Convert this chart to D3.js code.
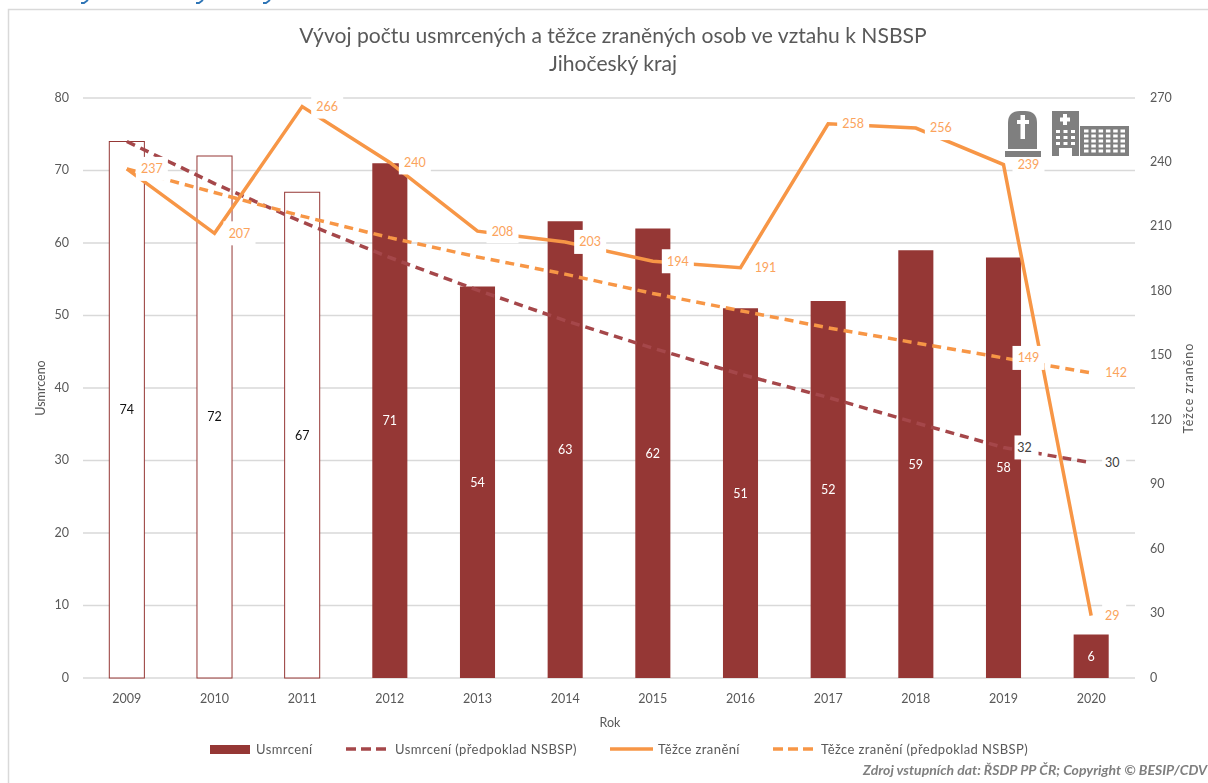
<!DOCTYPE html>
<html>
<head>
<meta charset="utf-8">
<style>
html, body { margin: 0; padding: 0; background: #fff; overflow: hidden; }
svg { display: block; filter: blur(0.35px); }
text { font-family: Lato, "Open Sans", sans-serif; fill: #595959; }
.axis .domain, .axis line { display: none; }
.axis text { font-size: 12.5px; fill: #595959; font-family: Lato, sans-serif; }
.grid { stroke: #d9d9d9; stroke-width: 1.5px; }
.line { fill: none; }
</style>
</head>
<body>
<script src="https://d3js.org/d3.v7.min.js"></script>
<script>

// data
var years = [2009, 2010, 2011, 2012, 2013, 2014, 2015, 2016, 2017, 2018, 2019, 2020];
var killed = [74, 72, 67, 71, 54, 63, 62, 51, 52, 59, 58, 6];
var killedPlan = [74, 68.2, 62.9, 58, 53.5, 49.3, 45.5, 41.9, 38.7, 35.2, 31.8, 29.7];
var injured = [237, 207, 266, 240, 208, 203, 194, 191, 258, 256, 239, 29];
var injuredPlan = [237, 226, 215, 205, 196, 188, 179, 171, 163, 156, 149, 142];
var hollowYears = [2009, 2010, 2011];
var killedPlanLabelYears = [2019, 2020];
var injuredPlanLabelYears = [2020, 2019];
var leftTicks = [0, 10, 20, 30, 40, 50, 60, 70, 80];
var rightTicks = [0, 30, 60, 90, 120, 150, 180, 210, 240, 270];

var red = "#953735", planRed = "#a5474a", orange = "#f79646", labelOrange = "#fba35c", dark = "#404040";

var margin = {top: 98, right: 73, bottom: 105, left: 83},
    width = 1208 - margin.left - margin.right,
    height = 783 - margin.top - margin.bottom;

var svg = d3.select("body").append("svg")
    .attr("width", 1208)
    .attr("height", 783);

// card border, open on the right and the bottom
svg.append("path")
    .attr("d", "M8.5,783V9.5H1208")
    .attr("fill", "none")
    .attr("stroke", "#d9d9d9")
    .attr("stroke-width", 1.5);

// bits of the page heading cut off by the top edge
svg.append("g").selectAll("path")
    .data([81, 196, 263])
    .enter().append("path")
    .attr("d", function(d) { return "M" + d + ",3H" + (d + 3) + "L" + (d + 7) + ",0"; })
    .attr("fill", "none")
    .attr("stroke", "#2e75b6")
    .attr("stroke-width", 1.8);

// title
svg.append("text").attr("x", 613).attr("y", 43).attr("text-anchor", "middle")
    .style("font-size", "21.1px")
    .text("Vývoj počtu usmrcených a těžce zraněných osob ve vztahu k NSBSP");
svg.append("text").attr("x", 613).attr("y", 71).attr("text-anchor", "middle")
    .style("font-size", "21.1px")
    .text("Jihočeský kraj");

var g = svg.append("g")
    .attr("transform", "translate(" + margin.left + "," + margin.top + ")");

// scales
var x = d3.scaleBand().domain(years).range([0, width]).paddingInner(0.6).paddingOuter(0.3);
var yLeft = d3.scaleLinear().domain([0, 80]).range([height, 0]);
var yRight = d3.scaleLinear().domain([0, 270]).range([height, 0]);
function cx(year) { return x(year) + x.bandwidth() / 2; }

// gridlines
g.selectAll(".grid")
    .data(leftTicks)
    .enter().append("line")
    .attr("class", "grid")
    .attr("x1", 0)
    .attr("x2", width)
    .attr("y1", function(d) { return yLeft(d); })
    .attr("y2", function(d) { return yLeft(d); });

// axes
g.append("g").attr("class", "axis")
    .attr("transform", "translate(-9,-1)")
    .call(d3.axisLeft(yLeft).tickValues(leftTicks).tickSize(0).tickPadding(5));
g.append("g").attr("class", "axis")
    .attr("transform", "translate(" + (width + 10) + ",-1)")
    .call(d3.axisRight(yRight).tickValues(rightTicks).tickSize(0).tickPadding(5));
g.append("g").attr("class", "axis")
    .attr("transform", "translate(0," + height + ")")
    .call(d3.axisBottom(x).tickSize(0).tickPadding(16));

// axis titles
svg.append("text").attr("transform", "translate(45,388) rotate(-90)")
    .attr("text-anchor", "middle").style("font-size", "12.5px").text("Usmrceno");
svg.append("text").attr("transform", "translate(1193,388) rotate(-90)")
    .attr("text-anchor", "middle").style("font-size", "12.5px").style("letter-spacing", "1px").text("Těžce zraněno");
svg.append("text").attr("x", 610).attr("y", 727)
    .attr("text-anchor", "middle").style("font-size", "12.5px").text("Rok");

// bars
var rows = years.map(function(y, i) { return {year: y, value: killed[i]}; });
function isHollow(d) { return hollowYears.indexOf(d.year) >= 0; }

g.selectAll(".bar")
    .data(rows)
    .enter().append("rect")
    .attr("class", "bar")
    .attr("x", function(d) { return x(d.year); })
    .attr("width", x.bandwidth())
    .attr("y", function(d) { return yLeft(d.value); })
    .attr("height", function(d) { return height - yLeft(d.value); })
    .style("fill", function(d) { return isHollow(d) ? "#fff" : red; })
    .style("stroke", function(d) { return isHollow(d) ? red : "none"; })
    .style("stroke-width", 1);

g.selectAll(".barLabel")
    .data(rows)
    .enter().append("text")
    .attr("x", function(d) { return cx(d.year); })
    .attr("y", function(d) { return yLeft(d.value / 2); })
    .attr("dy", "0.35em")
    .attr("text-anchor", "middle")
    .style("font-size", "12.5px")
    .style("fill", function(d) { return isHollow(d) ? "#111" : "#fff"; })
    .text(function(d) { return d.value; });

// lines
function lineFor(scale) {
  return d3.line()
      .x(function(d, i) { return cx(years[i]); })
      .y(function(d) { return scale(d); });
}

g.append("path").datum(killedPlan).attr("class", "line")
    .attr("d", lineFor(yLeft))
    .style("stroke", planRed).style("stroke-width", 3.5).style("stroke-dasharray", "9,6");
g.append("path").datum(injuredPlan).attr("class", "line")
    .attr("d", lineFor(yRight))
    .style("stroke", orange).style("stroke-width", 3.5).style("stroke-dasharray", "9,6");
g.append("path").datum(injured).attr("class", "line")
    .attr("d", lineFor(yRight))
    .style("stroke", orange).style("stroke-width", 3.5);

// value labels sit on white boxes to the right of the point
var lineLabels = [];
years.forEach(function(y, i) {
  lineLabels.push({year: y, value: injured[i], pos: yRight(injured[i]), color: labelOrange});
  if (injuredPlanLabelYears.indexOf(y) >= 0)
    lineLabels.push({year: y, value: injuredPlan[i], pos: yRight(injuredPlan[i]), color: labelOrange});
  if (killedPlanLabelYears.indexOf(y) >= 0)
    lineLabels.push({year: y, value: killedPlan[i], pos: yLeft(killedPlan[i]), color: dark});
});

var labelG = g.selectAll(".lineLabel")
    .data(lineLabels)
    .enter().append("g")
    .attr("class", "lineLabel")
    .attr("transform", function(d) {
      var dx = d.value < 100 ? 21 : 25;
      return "translate(" + (cx(d.year) + dx) + "," + d.pos + ")";
    });

labelG.append("rect")
    .attr("x", function(d) { return d.value < 100 ? -10 : -16; })
    .attr("width", function(d) { return d.value < 100 ? 24 : 32; })
    .attr("y", -12)
    .attr("height", 24)
    .style("fill", "#fff");

labelG.append("text")
    .attr("dy", "0.35em")
    .attr("text-anchor", "middle")
    .style("font-size", "12.5px")
    .style("fill", function(d) { return d.color; })
    .text(function(d) { return Math.round(d.value); });

// legend
var legendY = 749;
var legendItems = [
  {name: "Usmrcení", kind: "bar", color: red, x0: 210, x1: 250, tx: 256},
  {name: "Usmrcení (předpoklad NSBSP)", kind: "dash", color: planRed, x0: 346, x1: 387, tx: 395},
  {name: "Těžce zranění", kind: "solid", color: orange, x0: 610, x1: 653, tx: 658},
  {name: "Těžce zranění (předpoklad NSBSP)", kind: "dash", color: orange, x0: 773, x1: 813, tx: 821}
];

var legend = svg.append("g").selectAll("g")
    .data(legendItems)
    .enter().append("g");

legend.filter(function(d) { return d.kind === "bar"; }).append("rect")
    .attr("x", function(d) { return d.x0; })
    .attr("width", function(d) { return d.x1 - d.x0; })
    .attr("y", legendY - 4)
    .attr("height", 9)
    .style("fill", function(d) { return d.color; });

legend.filter(function(d) { return d.kind !== "bar"; }).append("line")
    .attr("x1", function(d) { return d.x0; })
    .attr("x2", function(d) { return d.x1; })
    .attr("y1", legendY)
    .attr("y2", legendY)
    .style("stroke", function(d) { return d.color; })
    .style("stroke-width", 3.5)
    .style("stroke-dasharray", function(d) { return d.kind === "dash" ? "10,5" : null; });

legend.append("text")
    .attr("x", function(d) { return d.tx; })
    .attr("y", legendY)
    .attr("dy", "0.35em")
    .style("font-size", "13px")
    .style("letter-spacing", "0.4px")
    .text(function(d) { return d.name; });

// source note
svg.append("text").attr("x", 1207).attr("y", 775).attr("text-anchor", "end")
    .style("font-size", "14px").style("font-style", "italic").style("font-weight", "700")
    .style("fill", "#7f7f7f")
    .text("Zdroj vstupních dat: ŘSDP PP ČR; Copyright © BESIP/CDV");

// icons
var icon = svg.append("g").style("fill", "#7f7f7f");
icon.append("rect").attr("x", 1005).attr("y", 151).attr("width", 36).attr("height", 6);
icon.append("path").attr("d", "M1008,149V123Q1008,111 1020,111H1025Q1037,111 1037,123V149Z");
icon.append("rect").attr("x", 1020.5).attr("y", 115).attr("width", 4.5).attr("height", 24).style("fill", "#fff");
icon.append("rect").attr("x", 1017).attr("y", 120).attr("width", 12).attr("height", 4).style("fill", "#fff");

icon.append("rect").attr("x", 1052).attr("y", 111).attr("width", 27).attr("height", 45);
icon.append("rect").attr("x", 1080).attr("y", 126).attr("width", 49).attr("height", 30);
icon.append("rect").attr("x", 1063).attr("y", 114).attr("width", 4).attr("height", 11).style("fill", "#fff");
icon.append("rect").attr("x", 1060).attr("y", 117.5).attr("width", 10).attr("height", 4).style("fill", "#fff");
icon.append("rect").attr("x", 1059).attr("y", 148).attr("width", 13).attr("height", 8).style("fill", "#fff");
d3.range(3).forEach(function(c) {
  d3.range(3).forEach(function(r) {
    icon.append("rect").attr("x", 1056 + c * 7.5).attr("y", 130 + r * 6)
        .attr("width", 4).attr("height", 3).style("fill", "#fff");
  });
});
d3.range(6).forEach(function(c) {
  d3.range(5).forEach(function(r) {
    icon.append("rect").attr("x", 1084 + c * 7.3).attr("y", 129.5 + r * 5)
        .attr("width", 4.5).attr("height", 3).style("fill", "#fff");
  });
});

</script>
</body>
</html>
